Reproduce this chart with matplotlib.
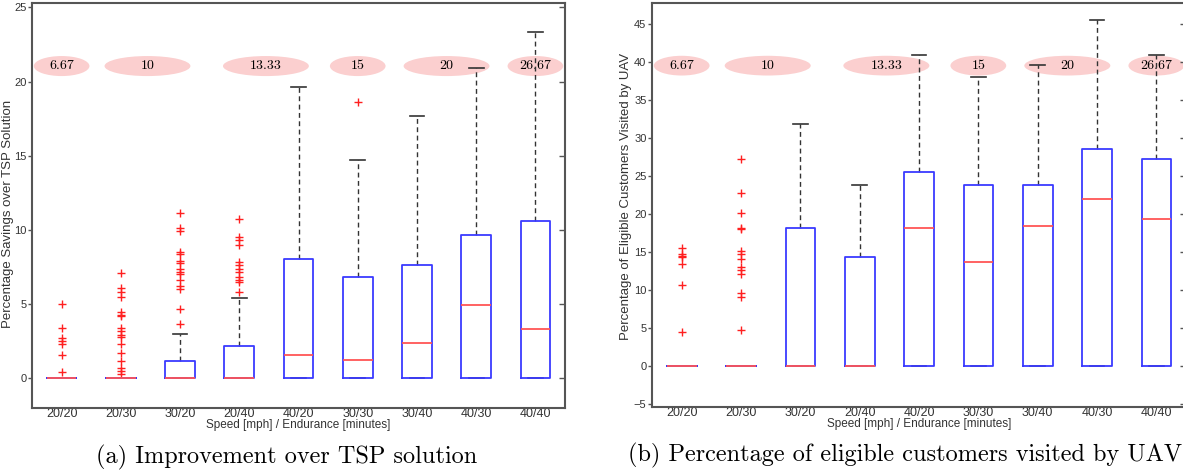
import matplotlib
matplotlib.use('Agg')
import matplotlib.pyplot as plt
from matplotlib.patches import Ellipse

# 資料
labels = ['20/20', '20/30', '30/20', '20/40', '40/20', '30/30', '30/40', '40/30', '40/40']

sav_q1 = [0, 0, 0, 0, 0, 0, 0, 0, 0]
sav_med = [0, 0, 0, 0, 1.6, 1.25, 2.4, 4.95, 3.3]
sav_q3 = [0, 0, 1.15, 2.2, 8.05, 6.85, 7.65, 9.65, 10.6]
sav_lo = [0, 0, 0, 0, 0, 0, 0, 0, 0]
sav_hi = [0, 0, 3.0, 5.4, 19.65, 14.7, 17.7, 20.95, 23.35]
sav_fliers = [
    [5.0, 3.4, 2.7, 2.5, 2.3, 1.6, 0.4],
    [7.1, 6.1, 5.8, 5.5, 4.5, 4.3, 4.2, 3.4, 3.2, 2.9, 2.8, 2.3, 1.7, 1.2, 0.7, 0.5, 0.3],
    [11.15, 10.1, 9.9, 8.5, 8.4, 7.9, 7.75, 7.35, 7.2, 7.0, 6.6, 6.2, 6.0, 4.7, 3.65],
    [10.75, 9.5, 9.3, 9.0, 7.85, 7.65, 7.4, 7.15, 6.85, 6.6, 6.5, 5.85],
    [], [18.65], [], [], [],
]

vis_q1 = [0, 0, 0, 0, 0, 0, 0, 0, 0]
vis_med = [0, 0, 0, 0, 18.2, 13.7, 18.5, 22.0, 19.35]
vis_q3 = [0, 0, 18.2, 14.3, 25.6, 23.85, 23.85, 28.55, 27.3]
vis_lo = [0, 0, 0, 0, 0, 0, 0, 0, 0]
vis_hi = [0, 0, 31.9, 23.85, 40.95, 38.1, 39.6, 45.5, 40.95]
vis_fliers = [
    [15.6, 14.8, 14.5, 14.3, 13.4, 10.7, 4.5],
    [27.3, 22.8, 20.1, 18.2, 18.0, 15.1, 14.8, 14.05, 13.1, 12.7, 12.1, 9.6, 9.05, 4.75],
    [], [], [], [], [], [], [],
]

# 航程標籤 (橢圓)
range_text = ['6.67', '10', '13.33', '15', '20', '26.67']
range_pos = [1, 2.45, 4.45, 6, 7.5, 9]
range_width = [0.94, 1.45, 1.45, 0.94, 1.45, 0.94]

fig = plt.figure(figsize=(11.83, 4.75), dpi=100)


def draw_panel(ax, q1, med, q3, lo, hi, fliers, ylabel, ylim, yticks, ell_y, ell_h,
               caption, cap_x, ylab_xy):
    stats = []
    for i in range(len(labels)):
        stats.append({'label': labels[i], 'q1': q1[i], 'med': med[i], 'q3': q3[i],
                      'whislo': lo[i], 'whishi': hi[i], 'fliers': fliers[i]})
    parts = ax.bxp(stats, widths=0.5, capwidths=0.25,
                   boxprops=dict(color='#3a3aff', linewidth=1.3),
                   medianprops=dict(color='#ff5555', linewidth=1.3),
                   whiskerprops=dict(color='#333333', linewidth=1.0, linestyle=(0, (3.5, 2.5))),
                   capprops=dict(color='#333333', linewidth=1.2),
                   flierprops=dict(marker='+', markeredgecolor='#ff2020', markersize=6,
                                   markeredgewidth=1.0, linestyle='none'),
                   zorder=3)
    # 下方 cap 放在箱子底下
    for c in parts['caps'][0::2]:
        c.set_zorder(2.5)
    for b in parts['boxes']:
        b.set_zorder(3.2)
    for m in parts['medians']:
        m.set_zorder(3.4)

    # 橢圓標籤
    for t, p, w in zip(range_text, range_pos, range_width):
        ax.add_patch(Ellipse((p, ell_y), w, ell_h, facecolor='#fbcfcf',
                             edgecolor='none', zorder=1))
        ax.text(p, ell_y, t, ha='center', va='center', fontsize=10,
                family='cmr10', zorder=2)

    ax.set_xlim(0.5, 9.5)
    ax.set_ylim(*ylim)
    ax.set_yticks(yticks)
    ax.set_xticks(range(1, 10))
    ax.set_xticklabels(labels)
    ax.tick_params(axis='x', length=0, pad=0, labelsize=9, labelcolor='#333333')
    ax.tick_params(axis='y', direction='out', length=3, width=1, pad=1,
                   labelsize=8, labelcolor='#333333', color='#555555')
    for s in ax.spines.values():
        s.set_color('#555555')
        s.set_linewidth(1.5)
    ax.set_ylabel(ylabel, fontsize=9.5, color='#333333')
    ax.yaxis.set_label_coords(*ylab_xy)
    ax.set_xlabel('Speed [mph] / Endurance [minutes]', fontsize=8.5,
                  color='#333333', labelpad=-1)
    ax.text(cap_x, -0.09, caption, transform=ax.transAxes, ha='center', va='top',
            fontsize=17.5, family='cmr10')


plt.rcParams['font.family'] = ['Liberation Sans', 'DejaVu Sans']

ax1 = fig.add_axes([32 / 1183, 67 / 475, 533 / 1183, 405 / 475])
draw_panel(ax1, sav_q1, sav_med, sav_q3, sav_lo, sav_hi, sav_fliers,
           'Percentage Savings over TSP Solution', (-2, 25.3), [0, 5, 10, 15, 20, 25],
           21.05, 1.35, '(a) Improvement over TSP solution', 0.478, (-0.034, 0.48))

ax2 = fig.add_axes([652 / 1183, 68 / 475, 534 / 1183, 404 / 475])
draw_panel(ax2, vis_q1, vis_med, vis_q3, vis_lo, vis_hi, vis_fliers,
           'Percentage of Eligible Customers Visited by UAV', (-5.4, 47.8),
           [-5, 0, 5, 10, 15, 20, 25, 30, 35, 40, 45],
           39.55, 2.6, '(b) Percentage of eligible customers visited by UAV', 0.474,
           (-0.037, 0.52))

# 右側刻度朝內
for ax in (ax1, ax2):
    ax.yaxis.set_tick_params(which='both', right=True, labelright=False)
    for tl in ax.yaxis.get_ticklines()[1::2]:
        tl.set_marker(matplotlib.lines.TICKLEFT)
        tl.set_markersize(4)

fig.savefig('out.png', dpi=100)
